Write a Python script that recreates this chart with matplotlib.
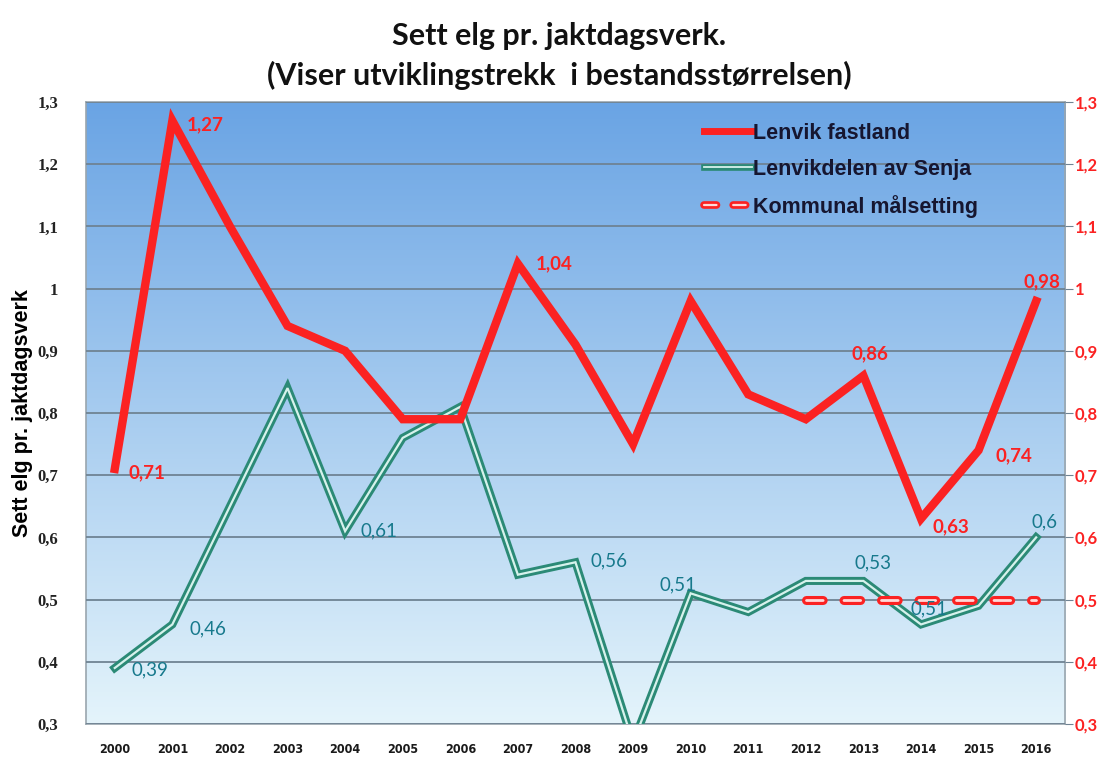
import numpy as np
import matplotlib
matplotlib.use("Agg")
import matplotlib.pyplot as plt
from matplotlib.ticker import FuncFormatter, MultipleLocator
from matplotlib.lines import Line2D

# data
years = [str(y) for y in range(2000, 2017)]
fastland = [0.71, 1.27, 1.10, 0.94, 0.90, 0.79, 0.79, 1.04, 0.91, 0.75,
            0.98, 0.83, 0.79, 0.86, 0.63, 0.74, 0.98]
senja = [0.39, 0.46, 0.65, 0.84, 0.61, 0.76, 0.81, 0.54, 0.56, 0.27,
         0.51, 0.48, 0.53, 0.53, 0.46, 0.49, 0.60]
maal_years = years[12:]
maal = [0.5, 0.5, 0.5, 0.5, 0.5]

red_labels = {0: "0,71", 1: "1,27", 7: "1,04", 13: "0,86", 14: "0,63", 15: "0,74", 16: "0,98"}
green_labels = {0: "0,39", 1: "0,46", 4: "0,61", 8: "0,56", 10: "0,51", 13: "0,53", 14: "0,51", 16: "0,6"}

RED = "#fb2222"
TEAL = "#2b8a76"
TEAL_IN = "#d6f2ec"
TEAL_TXT = "#17798c"

plt.rcParams['lines.scale_dashes'] = False

fig = plt.figure(figsize=(11.12, 7.58), dpi=100)
ax = fig.add_axes([0.0773, 0.0449, 0.8804, 0.8205])
x = np.arange(len(years))

# gradient background
top = np.array([106, 164, 228]) / 255.
bot = np.array([228, 244, 251]) / 255.
t = np.linspace(0, 1, 256)[:, None]
grad = (top * (1 - t) + bot * t)[:, None, :]
ax.imshow(grad, extent=[0, 1, 0, 1], transform=ax.transAxes, aspect='auto', zorder=0)

ax.set_xlim(-0.5, len(years) - 0.5)
ax.set_ylim(0.3, 1.3)
ax.yaxis.set_major_locator(MultipleLocator(0.1))
ax.grid(axis='y', color='#6f8393', lw=1.3, zorder=1)
ax.set_axisbelow(False)

fmt = FuncFormatter(lambda v, p: ("%g" % round(v, 2)).replace('.', ','))
ax.yaxis.set_major_formatter(fmt)

# lines
ax.plot(x, fastland, color=RED, lw=6, solid_joinstyle='miter', zorder=4)
ax.plot(x, senja, color=TEAL, lw=5.8, zorder=3, solid_joinstyle='miter')
ax.plot(x, senja, color=TEAL_IN, lw=1.6, zorder=3, solid_joinstyle='miter')
xm = x[12:]
ax.plot(xm, maal, color=RED, lw=6.5, dashes=(12, 15), dash_capstyle='round', zorder=5)
ax.plot(xm, maal, color='#ffd9d9', lw=2, dashes=(12, 15), dash_capstyle='round', zorder=5)

for i, s in red_labels.items():
    off = {0: (10, -3, 'left'), 1: (10, -3, 'left'), 7: (13, 0, 'left'),
           13: (5, 16, 'center'), 14: (8, -6, 'left'), 15: (12, -4, 'left'),
           16: (4, 14, 'center')}[i]
    ax.annotate(s, (x[i], fastland[i]), xytext=(off[0], off[1]), textcoords='offset points',
                ha=off[2], va='center', color=RED, fontsize=13.5, fontweight='bold',
                family='Lato', zorder=6)
for i, s in green_labels.items():
    off = {0: (12, -1, 'left'), 1: (12, -3, 'left'), 4: (11, 0, 'left'),
           8: (11, 1, 'left'), 10: (4, 6, 'right'), 13: (7, 13, 'center'),
           14: (6, 11, 'center'), 16: (6, 11, 'center')}[i]
    ax.annotate(s, (x[i], senja[i]), xytext=(off[0], off[1]), textcoords='offset points',
                ha=off[2], va='center', color=TEAL_TXT, fontsize=13.5,
                family='Lato', zorder=6)

ax.set_xticks(x)
ax.set_xticklabels(years, fontsize=9, fontweight='bold', family='DejaVu Sans',
                   fontstretch='condensed', color='#1a1a1a')
ax.tick_params(axis='x', length=0, pad=14)
ax.tick_params(axis='y', length=0, pad=20, labelsize=12, labelcolor='#222222')
for lab in ax.get_yticklabels():
    lab.set_family('Liberation Serif')
    lab.set_fontweight('bold')
for sp in ax.spines.values():
    sp.set_color('#9aa6ae')
    sp.set_linewidth(1.2)

ax2 = ax.twinx()
ax2.set_ylim(0.3, 1.3)
ax2.yaxis.set_major_locator(MultipleLocator(0.1))
ax2.yaxis.set_major_formatter(fmt)
ax2.tick_params(axis='y', length=6, pad=1, labelsize=12, colors='#6f8393', labelcolor=RED)
for lab in ax2.get_yticklabels():
    lab.set_family('Lato')
    lab.set_fontweight('bold')
for sp in ax2.spines.values():
    sp.set_visible(False)

ax.set_ylabel("Sett elg pr. jaktdagsverk", fontsize=15.5, fontweight='bold',
              family='Liberation Sans', labelpad=3)

# legend with proxy handles
h1 = Line2D([], [], color=RED, lw=5)
h2 = (Line2D([], [], color=TEAL, lw=4.8), Line2D([], [], color=TEAL_IN, lw=1.3))
h3 = (Line2D([], [], color=RED, lw=5.5, dashes=(9, 12), dash_capstyle='round'),
      Line2D([], [], color='#ffd9d9', lw=1.6, dashes=(9, 12), dash_capstyle='round'))
leg = ax.legend([h1, h2, h3], ["Lenvik fastland", "Lenvikdelen av Senja", "Kommunal målsetting"],
                loc='upper left', bbox_to_anchor=(0.612, 0.998), frameon=False,
                handlelength=2.2, handletextpad=0.05, labelspacing=0.7,
                prop={'family': 'Liberation Sans', 'weight': 'bold', 'size': 15.5})
for txt in leg.get_texts():
    txt.set_color('#161630')

fig.text(0.503, 0.953, "Sett elg pr. jaktdagsverk.", ha='center', va='center',
         fontsize=22, fontweight='bold', family='Lato', color='#111111')
fig.text(0.503, 0.900, "(Viser utviklingstrekk  i bestandsstørrelsen)", ha='center', va='center',
         fontsize=22, fontweight='bold', family='Lato', color='#111111')

fig.savefig("out.png", dpi=100)
